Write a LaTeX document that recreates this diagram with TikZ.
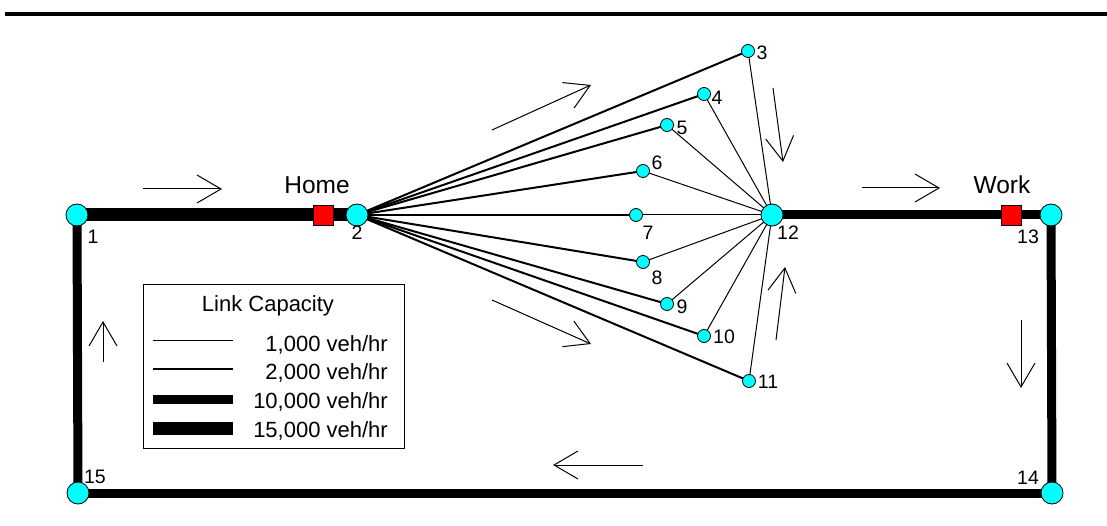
\documentclass[tikz,border=0pt]{standalone}
\usepackage{fontspec}
\setmainfont{Liberation Sans}
\usetikzlibrary{arrows.meta}
\definecolor{nodecyan}{RGB}{0,255,255}
\definecolor{boxred}{RGB}{255,0,0}
\pgfdeclarelayer{bg}
\pgfsetlayers{bg,main}
\begin{document}
\begin{tikzpicture}[x=1pt,y=-1pt,
  big/.style={circle,draw=black,line width=0.8pt,fill=nodecyan,minimum size=22pt,inner sep=0pt},
  small/.style={circle,draw=black,line width=0.8pt,fill=nodecyan,minimum size=13pt,inner sep=0pt},
  sq/.style={rectangle,draw=black,line width=0.6pt,fill=boxred,minimum size=20pt,inner sep=0pt},
  num/.style={font=\fontsize{19.5}{20}\selectfont,inner sep=0pt},
  lbl/.style={font=\fontsize{24.5}{26}\selectfont,inner sep=0pt},
  leg/.style={font=\fontsize{22}{24}\selectfont,inner sep=0pt},
  capa/.style={line width=1pt},
  capb/.style={line width=2pt},
  capc/.style={line width=9pt},
  capd/.style={line width=13pt},
  flow/.style={line width=1pt,-{Straight Barb[length=24pt,width=28pt,line width=1pt]}},
]
\useasboundingbox (0,0) rectangle (1107,526);
\draw[line width=3.3pt] (5,14) -- (1107,14);

% nodes
\node[big] (n1) at (77,215) {};
\node[big] (n2) at (357,215) {};
\node[small] (n3) at (748,51) {};
\node[small] (n4) at (704,94) {};
\node[small] (n5) at (667,125) {};
\node[small] (n6) at (643,171) {};
\node[small] (n7) at (636,215) {};
\node[small] (n8) at (643,262) {};
\node[small] (n9) at (667,304) {};
\node[small] (n10) at (704,336) {};
\node[small] (n11) at (749,381) {};
\node[big] (n12) at (772,215) {};
\node[big] (n13) at (1051,215) {};
\node[big] (n14) at (1052,493) {};
\node[big] (n15) at (78,493) {};
\node[sq] (home) at (323,215) {};
\node[sq] (work) at (1011,215) {};

% edges
\begin{pgfonlayer}{bg}
\draw[capd] (n1.center) -- (n2.center);
\draw[capc] (n12.center) -- (n13.center);
\draw[capc] (n13.center) -- (n14.center);
\draw[capc] (n14.center) -- (n15.center);
\draw[capc] (n15.center) -- (n1.center);
\foreach \k in {3,...,11}{
  \draw[capb] (n2.center) -- (n\k.center);
  \draw[capa] (n\k.center) -- (n12.center);
}
\end{pgfonlayer}

% labels
\node[num] (l1) at (93,237) {1};
\node[num] (l2) at (357,233) {2};
\node[num] (l3) at (762,53) {3};
\node[num] (l4) at (717,98) {4};
\node[num] (l5) at (682,128) {5};
\node[num] (l6) at (657,163) {6};
\node[num] (l7) at (648,233) {7};
\node[num] (l8) at (657,278) {8};
\node[num] (l9) at (682,307) {9};
\node[num] (l10) at (724,337) {10};
\node[num] (l11) at (768,382) {11};
\node[num] (l12) at (788,233) {12};
\node[num] (l13) at (1028,237) {13};
\node[num] (l14) at (1028,478) {14};
\node[num] (l15) at (95,477) {15};
\node[lbl] (thome) at (317,185) {Home};
\node[lbl] (twork) at (1002,185) {Work};

% flow arrows
\coordinate (a1s) at (143,189); \coordinate (a1e) at (222,189);
\coordinate (a2s) at (862,188); \coordinate (a2e) at (940,188);
\coordinate (a3s) at (492,130); \coordinate (a3e) at (591,85);
\coordinate (a4s) at (492,300); \coordinate (a4e) at (591,344);
\coordinate (a5s) at (773,88);  \coordinate (a5e) at (783,162);
\coordinate (a6s) at (776,340); \coordinate (a6e) at (785,267);
\coordinate (a7s) at (103,362); \coordinate (a7e) at (103,321);
\coordinate (a8s) at (1021,320); \coordinate (a8e) at (1021,388);
\coordinate (a9s) at (643,465); \coordinate (a9e) at (553,465);
\foreach \k in {1,...,9}{ \draw[flow] (a\k s) -- (a\k e); }

% legend
\node[draw=black,line width=1pt,minimum width=261pt,minimum height=163pt,inner sep=0pt] (legend) at (273.5,366.5) {};
\node[leg,anchor=base] (ltitle) at (268,312) {Link Capacity};
\coordinate (s1) at (153,340);   \coordinate (e1) at (233,340);
\coordinate (s2) at (153,369.3); \coordinate (e2) at (233,369.3);
\coordinate (s3) at (153,399.3); \coordinate (e3) at (233,399.3);
\coordinate (s4) at (153,428.3); \coordinate (e4) at (233,428.3);
\draw[capa] (s1) -- (e1);
\draw[capb] (s2) -- (e2);
\draw[capc] (s3) -- (e3);
\draw[capd] (s4) -- (e4);
\node[leg,anchor=base east] (t1) at (388,351.5) {1,000 veh/hr};
\node[leg,anchor=base east] (t2) at (388,379.5) {2,000 veh/hr};
\node[leg,anchor=base east] (t3) at (388,408) {10,000 veh/hr};
\node[leg,anchor=base east] (t4) at (388,437) {15,000 veh/hr};
\end{tikzpicture}
\end{document}
